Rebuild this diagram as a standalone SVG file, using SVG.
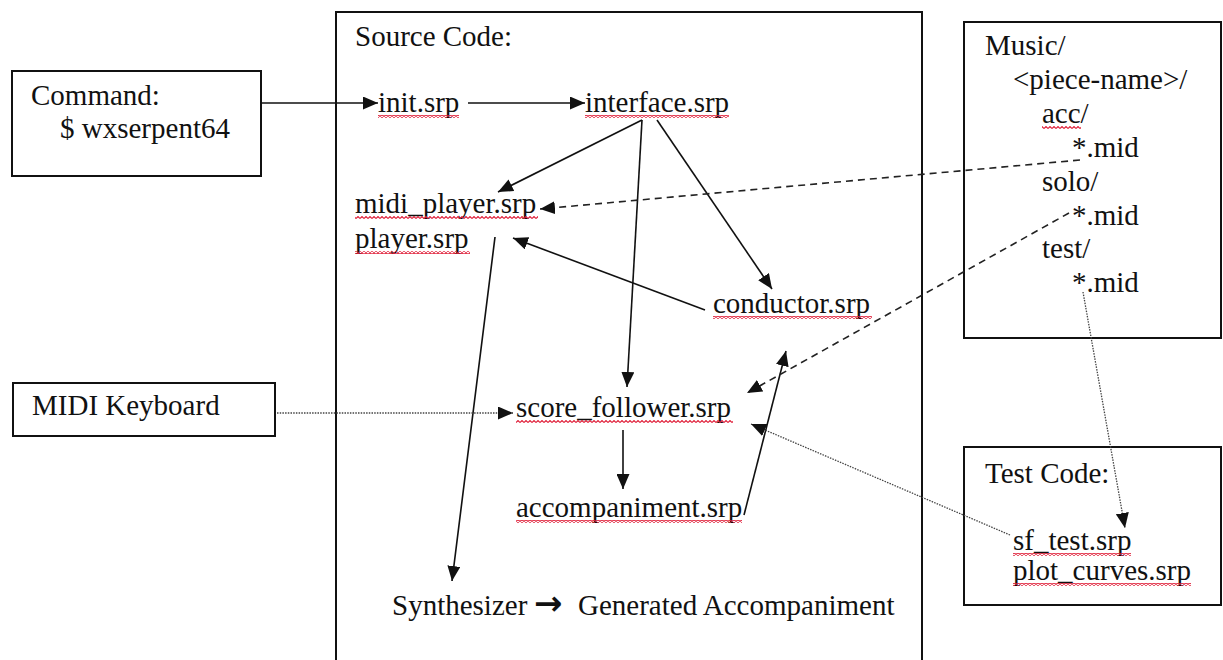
<svg xmlns="http://www.w3.org/2000/svg" width="1223" height="660" viewBox="0 0 1223 660">
<style>
text{font-family:"Liberation Serif","Times New Roman",serif;font-size:29px;fill:#111}
.box{fill:#fff;stroke:#111;stroke-width:2}
.solid{fill:none;stroke:#111;stroke-width:1.6}
.dash{fill:none;stroke:#222;stroke-width:1.6;stroke-dasharray:7,5}
.dot{fill:none;stroke:#444;stroke-width:1.3;stroke-dasharray:1.5,1.2}
.sq{fill:url(#wavy)}
</style>
<defs>
<marker id="ah" viewBox="0 0 15 13" refX="15" refY="6.5" markerWidth="15" markerHeight="13" markerUnits="userSpaceOnUse" orient="auto">
<path d="M0,0 L15,6.5 L0,13 Z" fill="#111"/>
</marker>
<pattern id="wavy" x="0" y="0" width="4" height="3" patternUnits="userSpaceOnUse">
<path d="M0,2.5 L2,0.5 L4,2.5" fill="none" stroke="#e0203a" stroke-width="1.1"/>
</pattern>
</defs>
<rect width="1223" height="660" fill="#fff"/>

<g id="source-code">
<rect class="box" x="336" y="12" width="586" height="660"/>
<text x="355" y="46">Source Code:</text>
</g>

<g id="command">
<rect class="box" x="12" y="71" width="249" height="105"/>
<text x="31" y="105">Command:</text>
<text x="60" y="138">$ wxserpent64</text>
</g>

<g id="midi-keyboard">
<rect class="box" x="13" y="383" width="262" height="53"/>
<text x="32" y="415">MIDI Keyboard</text>
</g>

<g id="music">
<rect class="box" x="964" y="22" width="257" height="316"/>
<text x="985" y="55">Music/</text>
<text x="1013" y="89">&lt;piece-name&gt;/</text>
<text x="1042" y="123">acc/</text>
<rect class="sq" x="1042" y="126" width="39" height="3"/>
<text x="1072" y="157">*.mid</text>
<text x="1042" y="191">solo/</text>
<text x="1072" y="225">*.mid</text>
<text x="1042" y="258">test/</text>
<text x="1072" y="292">*.mid</text>
</g>

<g id="test-code">
<rect class="box" x="964" y="447" width="257" height="158"/>
<text x="985" y="483">Test Code:</text>
</g>

<g id="init">
<text x="378" y="112">init.srp</text>
<rect class="sq" x="378" y="115" width="81" height="3"/>
</g>
<g id="interface">
<text x="585" y="112">interface.srp</text>
<rect class="sq" x="585" y="115" width="144" height="3"/>
</g>
<g id="midi-player">
<text x="355" y="213">midi_player.srp</text>
<rect class="sq" x="355" y="216" width="183" height="3"/>
</g>
<g id="player">
<text x="355" y="248">player.srp</text>
<rect class="sq" x="355" y="251" width="115" height="3"/>
</g>
<g id="conductor">
<text x="713" y="313">conductor.srp</text>
<rect class="sq" x="713" y="316" width="159" height="3"/>
</g>
<g id="score-follower">
<text x="516" y="417">score_follower.srp</text>
<rect class="sq" x="516" y="420" width="217" height="3"/>
</g>
<g id="accompaniment">
<text x="516" y="517">accompaniment.srp</text>
<rect class="sq" x="516" y="520" width="226" height="3"/>
</g>
<g id="synthesizer">
<text x="392" y="615">Synthesizer<tspan x="534" font-family="DejaVu Sans, sans-serif" font-size="34" font-weight="bold">→</tspan><tspan x="578">Generated Accompaniment</tspan></text>
</g>
<g id="sf-test">
<text x="1013" y="550">sf_test.srp</text>
<rect class="sq" x="1013" y="553" width="118" height="3"/>
</g>
<g id="plot-curves">
<text x="1013" y="580">plot_curves.srp</text>
<rect class="sq" x="1013" y="583" width="178" height="3"/>
</g>

<g id="connectors">
<line class="solid" x1="261" y1="103" x2="378" y2="103" marker-end="url(#ah)"/>
<line class="solid" x1="468" y1="103" x2="585" y2="103" marker-end="url(#ah)"/>
<line class="solid" x1="642" y1="120" x2="498" y2="192" marker-end="url(#ah)"/>
<line class="solid" x1="642" y1="120" x2="627" y2="387" marker-end="url(#ah)"/>
<line class="solid" x1="657" y1="120" x2="772" y2="289" marker-end="url(#ah)"/>
<line class="solid" x1="705" y1="310" x2="513" y2="238" marker-end="url(#ah)"/>
<line class="solid" x1="495" y1="237" x2="452" y2="581" marker-end="url(#ah)"/>
<line class="solid" x1="623" y1="430" x2="623" y2="489" marker-end="url(#ah)"/>
<line class="solid" x1="744" y1="515" x2="786" y2="351" marker-end="url(#ah)"/>
<line class="dot" x1="277" y1="413" x2="513" y2="413" marker-end="url(#ah)"/>
<line class="dash" x1="1080" y1="160" x2="540" y2="209" marker-end="url(#ah)"/>
<line class="dash" x1="1069" y1="213" x2="747" y2="393" marker-end="url(#ah)"/>
<line class="dot" x1="1083" y1="292" x2="1125" y2="528" marker-end="url(#ah)"/>
<line class="dot" x1="1010" y1="535" x2="751" y2="424" marker-end="url(#ah)"/>
</g>
</svg>
